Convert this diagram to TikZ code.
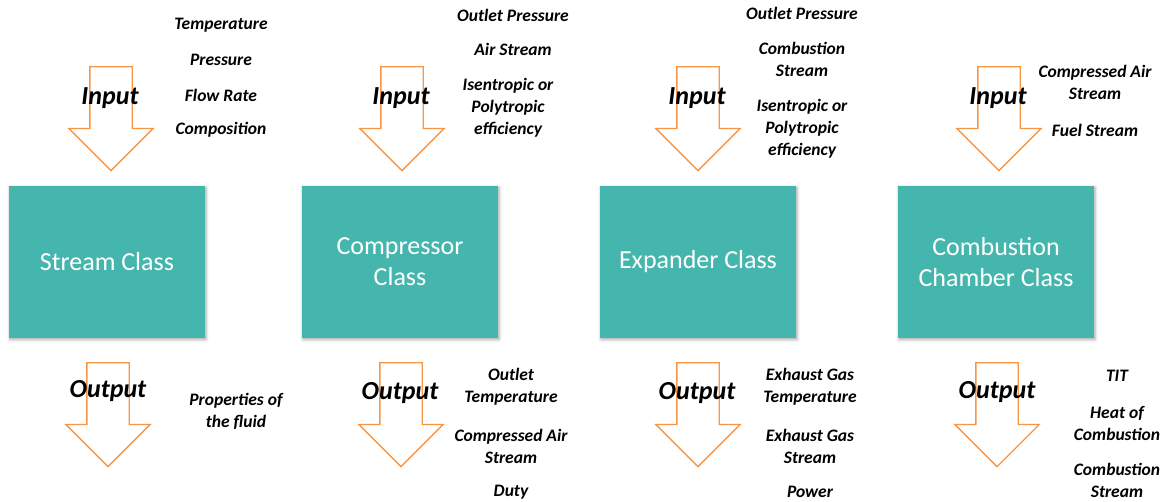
\documentclass[tikz,border=0pt]{standalone}
\usepackage{fontspec}
\setmainfont{Carlito}
\usepackage{tikz}
\usetikzlibrary{shapes,arrows,positioning,shadows.blur}

\definecolor{classteal}{RGB}{69,182,174}
\definecolor{flowgold}{RGB}{247,150,70}

\begin{document}
\begin{tikzpicture}[x=1pt,y=-1pt,
    classbox/.style={fill=classteal, text=white, minimum width=196pt, minimum height=152pt,
        inner sep=0pt, align=center, font=\fontsize{26}{31}\selectfont,
        blur shadow={shadow xshift=1pt, shadow yshift=-1.5pt, shadow opacity=35, shadow blur radius=3pt}},
    flowarrow/.style={single arrow, draw=flowgold, line width=1.3pt, fill=white,
        shape border rotate=270, minimum height=104pt,
        single arrow head extend=21pt, single arrow tip angle=90,
        inner xsep=20.5pt, inner ysep=0pt, anchor=tail},
    flowname/.style={font=\fontsize{26}{31}\selectfont\bfseries\itshape, inner sep=0pt},
    item/.style={font=\fontsize{17.5}{22}\selectfont\bfseries\itshape, align=center, inner sep=0pt}]
    \useasboundingbox (0,0) rectangle (1175,501);

    % Classes
    \node[classbox] (stream) at (107,262) {Stream Class};
    \node[classbox] (comp) at (400,262) {Compressor\\Class};
    \node[classbox] (expd) at (698,262) {Expander Class};
    \node[classbox] (comb) at (996,262) {Combustion\\Chamber Class};

    % Input and output arrows
    \node[flowarrow] (instream) at (111,66) {};
    \node[flowarrow] (outstream) at (108,362) {};
    \node[flowarrow] (incomp) at (402,66) {};
    \node[flowarrow] (outcomp) at (401,362) {};
    \node[flowarrow] (inexpd) at (698,66) {};
    \node[flowarrow] (outexpd) at (698,362) {};
    \node[flowarrow] (incomb) at (999,66) {};
    \node[flowarrow] (outcomb) at (997,362) {};

    \node[flowname] (instreamtxt) at (110,98) {Input};
    \node[flowname] (outstreamtxt) at (108,391) {Output};
    \node[flowname] (incomptxt) at (401,98) {Input};
    \node[flowname] (outcomptxt) at (400,393) {Output};
    \node[flowname] (inexpdtxt) at (697,98) {Input};
    \node[flowname] (outexpdtxt) at (697,393) {Output};
    \node[flowname] (incombtxt) at (998,98) {Input};
    \node[flowname] (outcombtxt) at (997,392) {Output};

    % Stream class data
    \node[item] (temp) at (221,25) {Temperature};
    \node[item] (press) at (221,60) {Pressure};
    \node[item] (flow) at (221,95) {Flow Rate};
    \node[item] (compo) at (221,130) {Composition};
    \node[item] (props) at (236,411) {Properties of\\the fluid};

    % Compressor class data
    \node[item] (cpout) at (513,15) {Outlet Pressure};
    \node[item] (cair) at (513,49) {Air Stream};
    \node[item] (ceff) at (508,108) {Isentropic or\\Polytropic\\efficiency};
    \node[item] (ctout) at (511,387) {Outlet\\Temperature};
    \node[item] (cstream) at (511,446) {Compressed Air\\Stream};
    \node[item] (cduty) at (511,492) {Duty};

    % Expander class data
    \node[item] (epout) at (802,13) {Outlet Pressure};
    \node[item] (ecomb) at (802,59) {Combustion\\Stream};
    \node[item] (eeff) at (802,129) {Isentropic or\\Polytropic\\efficiency};
    \node[item] (etgas) at (810,387) {Exhaust Gas\\Temperature};
    \node[item] (esgas) at (810,446) {Exhaust Gas\\Stream};
    \node[item] (epower) at (810,492) {Power};

    % Combustion chamber class data
    \node[item] (bair) at (1095,82) {Compressed Air\\Stream};
    \node[item] (bfuel) at (1095,130) {Fuel Stream};
    \node[item] (btit) at (1117,376) {TIT};
    \node[item] (bheat) at (1117,423) {Heat of\\Combustion};
    \node[item] (bstream) at (1117,480) {Combustion\\Stream};
\end{tikzpicture}
\end{document}
